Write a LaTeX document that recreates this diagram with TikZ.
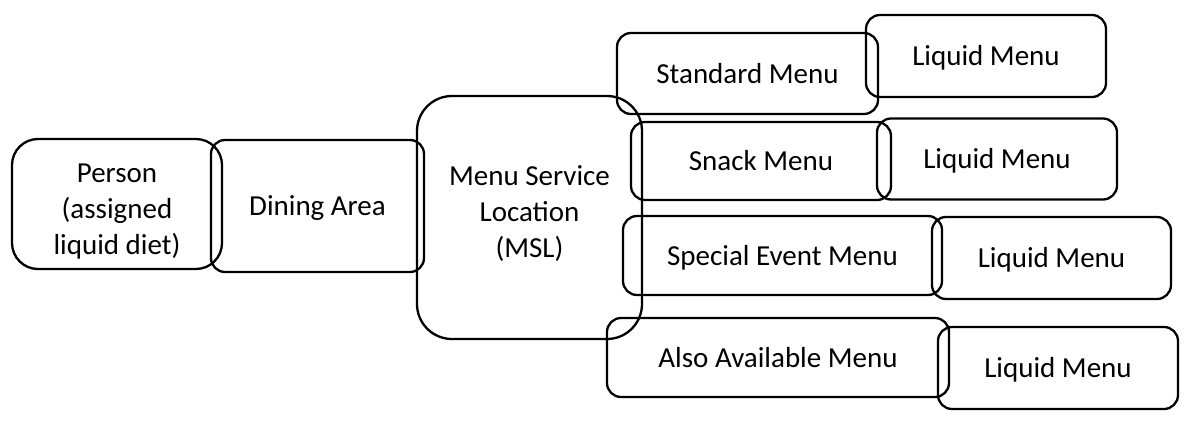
\documentclass[tikz,border=0pt]{standalone}
\usepackage{fontspec}
\setmainfont{Carlito}
\begin{document}
\begin{tikzpicture}[x=1pt,y=-1pt,
  box/.style={draw,line width=2.3pt,rounded corners=14pt,inner sep=0pt,align=center,
    font=\fontsize{29}{36}\selectfont},
  onebox/.style={box,text height=22pt,text depth=2.6pt},
  bigbox/.style={box,rounded corners=26pt}]
\useasboundingbox (0,0) rectangle (1195,429);
\node[bigbox,minimum width=210pt,minimum height=130pt] (person) at (117,204) {\rule{0pt}{33pt}Person\\(assigned\\liquid diet)};
\node[bigbox,onebox,minimum width=213pt,minimum height=132pt] (dining) at (317.5,206) {Dining Area};
\node[bigbox,rounded corners=35pt,minimum width=225pt,minimum height=243pt] (msl) at (529.5,217.5) {Menu Service\\Location\\(MSL)\rule[-11pt]{0pt}{11pt}};
\node[onebox,minimum width=261pt,minimum height=81pt] (standard) at (747.5,73.5) {Standard Menu};
\node[onebox,minimum width=240pt,minimum height=82pt] (liq1) at (986,56) {Liquid Menu};
\node[onebox,minimum width=260pt,minimum height=78pt] (snack) at (761,161) {Snack Menu};
\node[onebox,minimum width=240pt,minimum height=81pt] (liq2) at (997,159) {Liquid Menu};
\node[onebox,minimum width=319pt,minimum height=79pt] (special) at (782.5,255.5) {Special Event Menu};
\node[onebox,minimum width=239pt,minimum height=82pt] (liq3) at (1051.5,258) {Liquid Menu};
\node[onebox,minimum width=342pt,minimum height=79pt] (also) at (778,357.5) {Also Available Menu};
\node[onebox,minimum width=240pt,minimum height=82pt] (liq4) at (1058,368) {Liquid Menu};
\end{tikzpicture}
\end{document}
